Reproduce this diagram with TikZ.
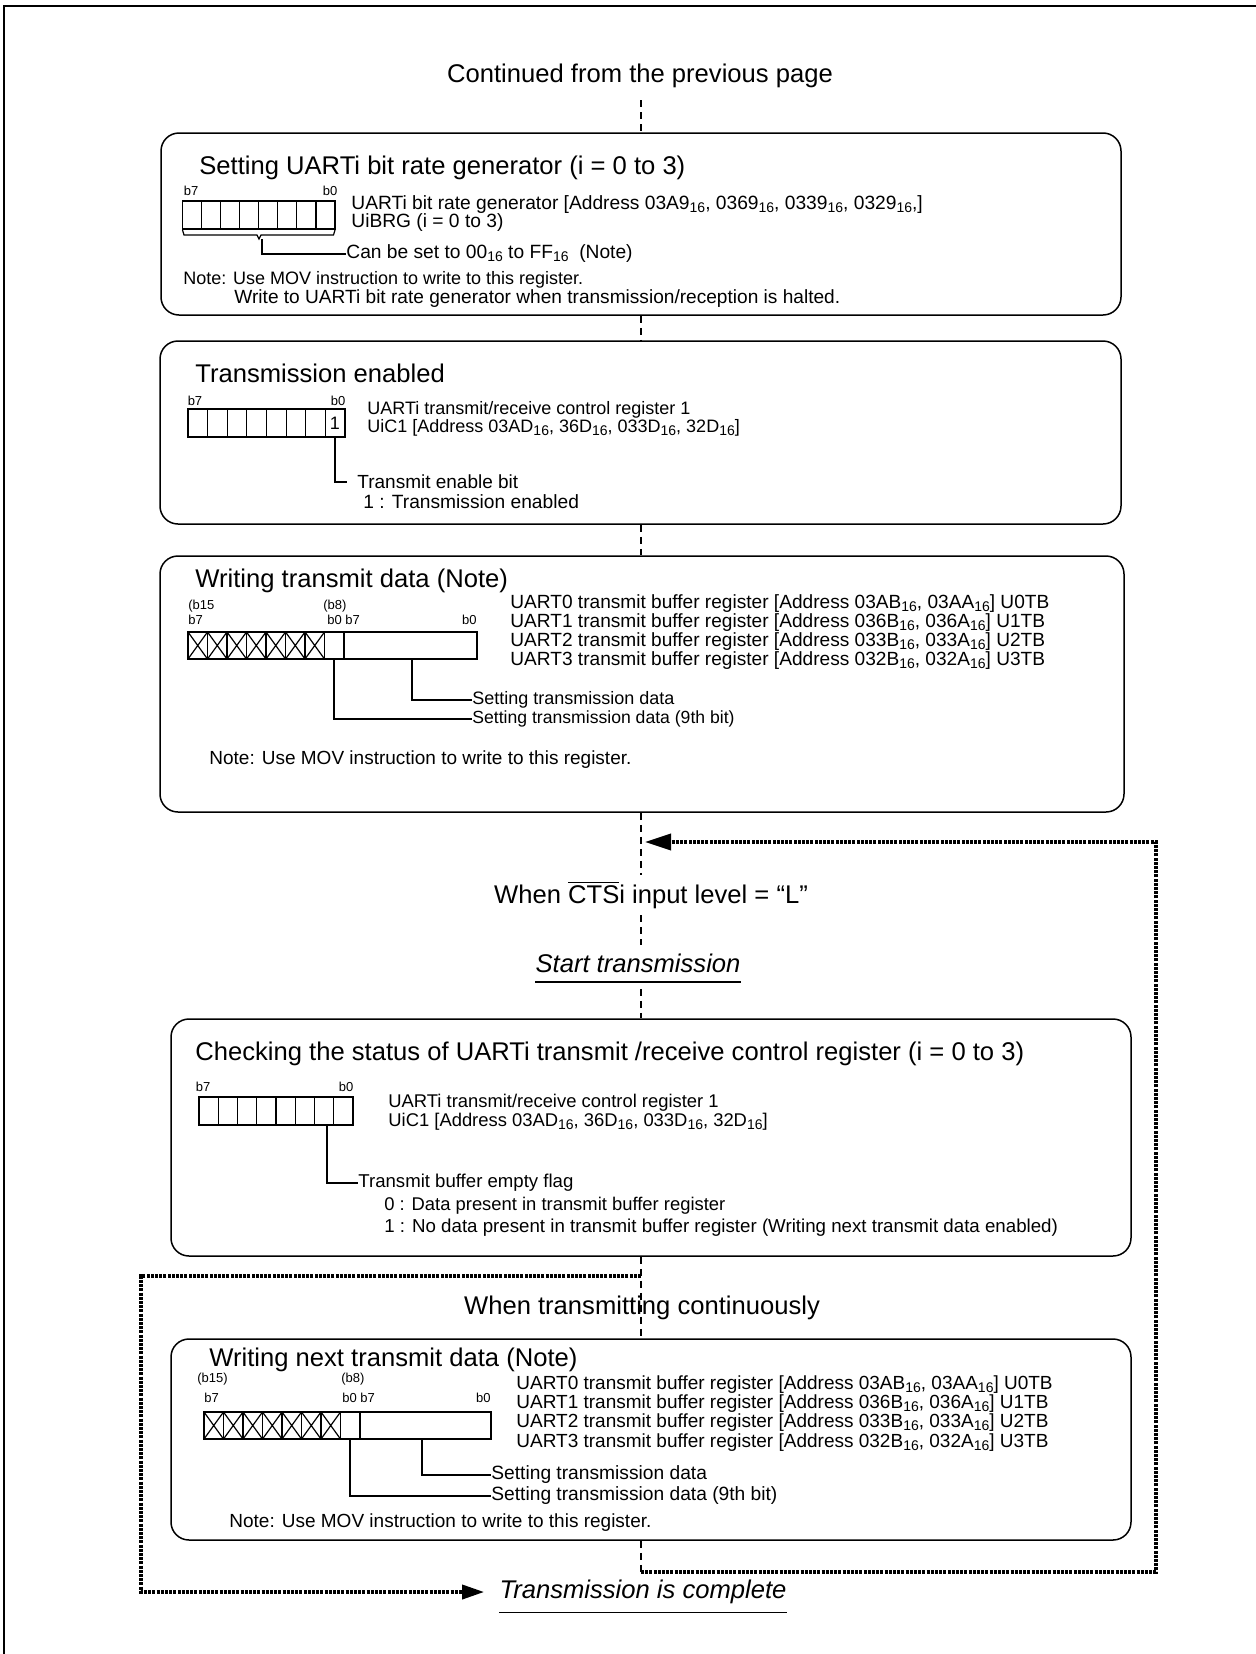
\documentclass[tikz,border=0pt]{standalone}
\usepackage{fontspec}
\setmainfont{Liberation Sans}
\usetikzlibrary{arrows.meta}
\newcommand\hs{\raisebox{-0.25ex}{\fontsize{7}{7}\selectfont 16}}
\begin{document}
\begin{tikzpicture}[x=0.5pt,y=-0.5pt,
  big/.style={font=\fontsize{12.8}{15}\selectfont, inner sep=0pt},
  bigw/.style={big, anchor=west},
  body/.style={font=\fontsize{9}{11}\selectfont, inner sep=0pt, anchor=west},
  fs/.style={font=\fontsize{#1}{12}\selectfont},
  lbl/.style={font=\fontsize{6.5}{7}\selectfont, inner sep=0pt},
  panel/.style={draw, line width=0.75pt, rounded corners=9pt, inner sep=0pt},
  flow/.style={line width=0.7pt, dash pattern=on 3.5pt off 2.5pt},
  loopline/.style={line width=1.8pt, dash pattern=on 1.5pt off 0.6pt, line join=miter},
  tip/.style={-{Triangle[length=13pt,width=8pt]}},
  tipsmall/.style={-{Triangle[length=11pt,width=7pt]}},
  reg/.style={line width=0.6pt},
  lead/.style={line width=0.6pt},
  rule/.style={line width=0.7pt},
  frame/.style={line width=1pt}]

\useasboundingbox (0,0) rectangle (1256,1654);
\draw[frame] (4,1654) -- (4,6) -- (1256,6);

% panels
\node[panel, minimum width=480pt, minimum height=91pt] (b1) at (641,224) {};
\node[panel, minimum width=480.5pt, minimum height=91.5pt] (b2) at (640.5,432.5) {};
\node[panel, minimum width=482pt, minimum height=128pt] (b3) at (642,684) {};
\node[panel, minimum width=480pt, minimum height=118.5pt] (b4) at (651,1137.5) {};
\node[panel, minimum width=480pt, minimum height=100.5pt] (b5) at (651,1439.5) {};

% headings in the flow
\node[big] (cont) at (640,76) {Continued from the previous page};
\node[big, fill=white] (cts) at (651,895) {When $\overline{\hbox{CTS}}$i input level = “L”};
\node[big] (start) at (638,963) {\itshape Start transmission};
\draw[rule] ([yshift=-4.5pt]start.south west) -- ([yshift=-4.5pt]start.south east);
\node[big] (cont2) at (642,1308) {When transmitting continuously};
\node[big] (done) at (643,1592) {\itshape Transmission is complete};
\draw[rule] ([yshift=-4pt]done.south west) -- ([yshift=-4pt]done.south east);

% ---------- box 1
\node[bigw] (t1) at (199,168) {Setting UARTi bit rate generator (i = 0 to 3)};
\node[lbl] (b1h) at (191,191) {b7};
\node[lbl] (b1l) at (330,191) {b0};
\draw[reg] (182.5,201) rectangle (335,229);
\foreach \i in {1,...,7} \draw[reg] ({182.5+\i*19.0625},201) -- ++(0,28);
\draw[lead] (182.5,230) -- (184,235) -- (257,235) -- (259,239) -- (261,235) -- (333.5,235) -- (335,230);
\coordinate (br1) at (262,239);
\node[body, fs=9.6] (n1a) at (351,205) {UARTi bit rate generator [Address 03A9\hs, 0369\hs, 0339\hs, 0329\hs,]};
\node[body, fs=9.6] (n1b) at (351,223) {UiBRG (i = 0 to 3)};
\node[body, fs=9.6] (n1c) at (346,254) {Can be set to 00\hs{} to FF\hs{}\ \ (Note)};
\draw[lead] (br1) |- (n1c.west);
\node[body] (n1d) at (183,280) {Note: Use MOV instruction to write to this register.};
\node[body, fs=9.55] (n1e) at (234,299) {Write to UARTi bit rate generator when transmission/reception is halted.};

% ---------- box 2
\node[bigw] (t2) at (195,373) {Transmission enabled};
\node[lbl] (b2h) at (195,401) {b7};
\node[lbl] (b2l) at (338,401) {b0};
\draw[reg] (188,409) rectangle (345,437);
\foreach \i in {1,...,7} \draw[reg] ({188+\i*19.625},409) -- ++(0,28);
\node[body, anchor=center] (one) at (335,423) {1};
\coordinate (c2) at (335,437);
\node[body] (n2a) at (367,410) {UARTi transmit/receive control register 1};
\node[body] (n2b) at (367,428) {UiC1 [Address 03AD\hs, 36D\hs, 033D\hs, 32D\hs]};
\node[body, fs=9.5] (n2c) at (357,482) {Transmit enable bit};
\node[body, fs=9.6] (n2d) at (363,502) {1 : Transmission enabled};
\draw[lead] (c2) |- ([xshift=-5pt]n2c.west);

% ---------- box 3
\node[bigw] (t3) at (195,581) {Writing transmit data (Note)};
\node[lbl, anchor=west] (l3a) at (188,606) {(b15};
\node[lbl, anchor=west] (l3b) at (188,620) {b7};
\node[lbl, anchor=west] (l3c) at (323,606) {(b8)};
\node[lbl, anchor=west] (l3d) at (327,620) {b0 b7};
\node[lbl, anchor=east] (l3e) at (477,620) {b0};
\foreach \i in {0,...,6} {
  \draw[reg] ({188+\i*19.5},632) rectangle ++(19.5,27);
  \draw[reg] ({188+\i*19.5},632) -- ++(19.5,27) ({188+(\i+1)*19.5},632) -- ++(-19.5,27);
}
\draw[reg] (324.5,632) rectangle (344,659);
\draw[reg] (344,632) rectangle (477,659);
\coordinate (c3a) at (412,659);
\coordinate (c3b) at (334,659);
\node[body, fs=9.55] (n3a) at (510,604) {UART0 transmit buffer register [Address 03AB\hs, 03AA\hs] U0TB};
\node[body, fs=9.55] (n3b) at (510,623) {UART1 transmit buffer register [Address 036B\hs, 036A\hs] U1TB};
\node[body, fs=9.55] (n3c) at (510,642) {UART2 transmit buffer register [Address 033B\hs, 033A\hs] U2TB};
\node[body, fs=9.55] (n3d) at (510,661) {UART3 transmit buffer register [Address 032B\hs, 032A\hs] U3TB};
\node[body] (n3e) at (472,700) {Setting transmission data};
\node[body, fs=8.8] (n3f) at (472,719) {Setting transmission data (9th bit)};
\draw[lead] (c3a) |- (n3e.west);
\draw[lead] (c3b) |- (n3f.west);
\node[body, fs=9.5] (n3g) at (209,760) {Note: Use MOV instruction to write to this register.};

% ---------- box 4
\node[bigw] (t4) at (195,1054) {Checking the status of UARTi transmit /receive control register (i = 0 to 3)};
\node[lbl] (b4h) at (203,1087) {b7};
\node[lbl] (b4l) at (346,1087) {b0};
\draw[reg] (199,1097) rectangle (353,1125);
\foreach \i in {1,...,7} \draw[reg] ({199+\i*19.25},1097) -- ++(0,28);
\coordinate (c4) at (327,1125);
\node[body, fs=9.2] (n4a) at (388,1103) {UARTi transmit/receive control register 1};
\node[body, fs=9.2] (n4b) at (388,1122) {UiC1 [Address 03AD\hs, 36D\hs, 033D\hs, 32D\hs]};
\node[body, fs=9.3] (n4c) at (358,1183) {Transmit buffer empty flag};
\draw[lead] (c4) |- (n4c.west);
\node[body, fs=9.2] (n4d) at (384,1206) {0 : Data present in transmit buffer register};
\node[body, fs=9.35] (n4e) at (384,1228) {1 : No data present in transmit buffer register (Writing next transmit data enabled)};

% ---------- box 5
\node[bigw] (t5) at (209,1360) {Writing next transmit data (Note)};
\node[lbl, anchor=west] (l5a) at (197,1379) {(b15)};
\node[lbl, anchor=west] (l5b) at (204,1398) {b7};
\node[lbl, anchor=west] (l5c) at (341,1379) {(b8)};
\node[lbl, anchor=west] (l5d) at (342,1398) {b0 b7};
\node[lbl, anchor=east] (l5e) at (491,1398) {b0};
\foreach \i in {0,...,6} {
  \draw[reg] ({204+\i*19.5},1412) rectangle ++(19.5,27);
  \draw[reg] ({204+\i*19.5},1412) -- ++(19.5,27) ({204+(\i+1)*19.5},1412) -- ++(-19.5,27);
}
\draw[reg] (340.5,1412) rectangle (360,1439);
\draw[reg] (360,1412) rectangle (491,1439);
\coordinate (c5a) at (422,1439);
\coordinate (c5b) at (350,1439);
\node[body, fs=9.5] (n5a) at (516,1385) {UART0 transmit buffer register [Address 03AB\hs, 03AA\hs] U0TB};
\node[body, fs=9.5] (n5b) at (516,1404) {UART1 transmit buffer register [Address 036B\hs, 036A\hs] U1TB};
\node[body, fs=9.5] (n5c) at (516,1423) {UART2 transmit buffer register [Address 033B\hs, 033A\hs] U2TB};
\node[body, fs=9.5] (n5d) at (516,1443) {UART3 transmit buffer register [Address 032B\hs, 032A\hs] U3TB};
\node[body, fs=9.6] (n5e) at (491,1475) {Setting transmission data};
\node[body, fs=9.6] (n5f) at (491,1496) {Setting transmission data (9th bit)};
\draw[lead] (c5a) |- (n5e.west);
\draw[lead] (c5b) |- (n5f.west);
\node[body, fs=9.5] (n5g) at (229,1523) {Note: Use MOV instruction to write to this register.};

% ---------- flow lines
\coordinate (spine) at (641,0);
\coordinate (join) at (641,842);
\coordinate (lr1) at (641,1572);
\coordinate (lr2) at (1156,1572);
\coordinate (lr3) at (1156,842);
\coordinate (ll1) at (641,1276);
\coordinate (ll2) at (141,1276);
\coordinate (ll3) at (141,1592);

\draw[flow, shorten <=6pt] (cont.south -| spine) -- (b1.north -| spine);
\draw[flow] (b1.south -| spine) -- (b2.north -| spine);
\draw[flow] (b2.south -| spine) -- (b3.north -| spine);
\draw[flow, shorten >=3pt] (b3.south -| spine) -- (cts.north -| spine);
\draw[flow, shorten <=3pt, shorten >=4pt] (cts.south -| spine) -- (start.north -| spine);
\draw[flow, shorten <=8pt] (start.south -| spine) -- (b4.north -| spine);
\draw[flow] (b4.south -| spine) -- (b5.north -| spine);
\draw[flow] (b5.south -| spine) -- (lr1);

\draw[loopline, tip] (lr1) -- (lr2) -- (lr3) -- ([xshift=2pt]join);
\draw[loopline, tipsmall] (ll1) -- (ll2) -- (ll3) -- ([xshift=-7.5pt]done.west);
\end{tikzpicture}
\end{document}
